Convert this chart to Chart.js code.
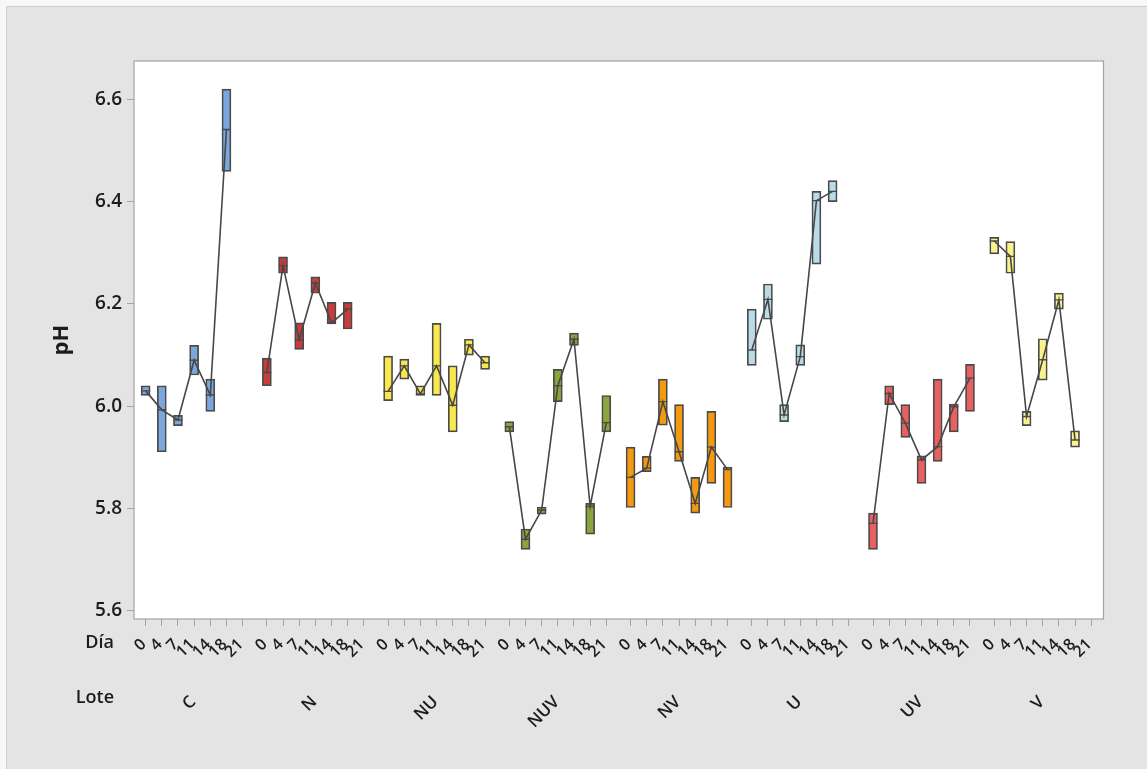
<!DOCTYPE html>
<html>
<head>
<meta charset="utf-8">
<script src="https://cdn.jsdelivr.net/npm/chart.js@4.4.1/dist/chart.umd.min.js"></script>
<style>
  html, body { margin: 0; padding: 0; background: #f7f7f7; }
  #wrap { width: 1147px; height: 769px; }
</style>
</head>
<body>
<div id="wrap"><canvas id="c" width="1147" height="769"></canvas></div>
<script>
// Lotes (groups) and sampling days
const lotes = ['C', 'N', 'NU', 'NUV', 'NV', 'U', 'UV', 'V'];
const dias = ['0', '4', '7', '11', '14', '18', '21'];

// pH box limits per lote, one entry per day (null = no data that day)
const boxLow = [
  [6.021, 5.911, 5.962, 6.061, 5.990, 6.459, null],
  [6.040, 6.260, 6.111, 6.221, 6.161, 6.151, null],
  [6.011, 6.053, 6.021, 6.021, 5.950, 6.100, 6.072],
  [5.950, 5.720, 5.789, 6.009, 6.119, 5.750, 5.950],
  [5.802, 5.872, 5.963, 5.892, 5.791, 5.849, 5.802],
  [6.080, 6.170, 5.970, 6.080, 6.278, 6.400, null],
  [5.720, 6.003, 5.939, 5.849, 5.892, 5.950, 5.990],
  [6.298, 6.260, 5.962, 6.051, 6.190, 5.920, null]
];
const boxHigh = [
  [6.040, 6.040, 5.982, 6.119, 6.053, 6.620, null],
  [6.094, 6.292, 6.163, 6.253, 6.203, 6.203, null],
  [6.098, 6.092, 6.040, 6.162, 6.079, 6.131, 6.098],
  [5.970, 5.760, 5.803, 6.072, 6.143, 5.810, 6.021],
  [5.920, 5.902, 6.053, 6.003, 5.861, 5.990, 5.881],
  [6.190, 6.239, 6.003, 6.120, 6.420, 6.441, null],
  [5.791, 6.040, 6.003, 5.903, 6.053, 6.004, 6.082],
  [6.330, 6.322, 5.990, 6.132, 6.221, 5.952, null]
];
// Median pH per lote and day (also the points joined by the connecting line)
const medians = [
  [6.030, 5.993, 5.973, 6.090, 6.022, 6.541, null],
  [6.066, 6.275, 6.130, 6.241, 6.163, 6.190, null],
  [6.029, 6.079, 6.024, 6.079, 6.002, 6.120, 6.085],
  [5.960, 5.740, 5.797, 6.040, 6.131, 5.804, 5.968],
  [5.861, 5.879, 6.009, 5.911, 5.810, 5.920, 5.876],
  [6.110, 6.209, 5.983, 6.097, 6.402, 6.420, null],
  [5.771, 6.025, 5.967, 5.895, 5.921, 5.999, 6.055],
  [6.323, 6.293, 5.980, 6.091, 6.208, 5.934, null]
];
const yTicks = [5.6, 5.8, 6.0, 6.2, 6.4, 6.6];

const loteColors = ['#7ba7dc', '#c93c3c', '#f9e84b', '#8ba53b', '#f39a10', '#b9dbe7', '#e8605f', '#f8f38c'];
const slotsPerLote = 7.5;
const pos = (g, d) => g * slotsPerLote + d;

const boxData = [], boxColors = [], medData = [];
lotes.forEach((l, g) => {
  dias.forEach((dia, d) => {
    if (boxLow[g][d] == null) return;
    boxData.push({ x: pos(g, d), y: [boxLow[g][d], boxHigh[g][d]] });
    boxColors.push(loteColors[g]);
    medData.push({ x: pos(g, d), y: medians[g][d] });
  });
});

const lineSets = lotes.map((l, g) => ({
  type: 'line',
  label: l,
  data: dias.map((dia, d) => medians[g][d] == null ? null : { x: pos(g, d), y: medians[g][d] }).filter(Boolean),
  borderColor: '#474747',
  borderWidth: 1.6,
  pointRadius: 0,
  tension: 0,
  fill: false,
  order: 1
}));

const FONT = '"Open Sans", "Noto Sans", sans-serif';
const INK = '#1c1c1c';

const framePlugin = {
  id: 'frame',
  beforeDraw(chart) {
    const { ctx, chartArea: a, width, height } = chart;
    ctx.save();
    ctx.fillStyle = '#f7f7f7';
    ctx.fillRect(0, 0, width, height);
    ctx.fillStyle = '#e4e4e4';
    ctx.fillRect(6, 6, width - 6, height - 6);
    ctx.strokeStyle = '#cdcdcd';
    ctx.lineWidth = 1;
    ctx.beginPath();
    ctx.moveTo(6.5, height);
    ctx.lineTo(6.5, 6.5);
    ctx.lineTo(width, 6.5);
    ctx.stroke();
    ctx.fillStyle = '#ffffff';
    ctx.fillRect(a.left, a.top, a.width, a.height);
    ctx.restore();
  },
  afterDraw(chart) {
    const { ctx, chartArea: a } = chart;
    ctx.save();
    ctx.strokeStyle = '#a3a3a3';
    ctx.lineWidth = 1.2;
    ctx.strokeRect(a.left, a.top, a.width, a.height);
    ctx.fillStyle = INK;
    ctx.font = '600 18px ' + FONT;
    ctx.textAlign = 'right';
    ctx.textBaseline = 'middle';
    ctx.fillText('Día', 114, a.bottom + 24);
    ctx.fillText('Lote', 114, a.bottom + 79);
    ctx.restore();
  }
};

const xCommon = {
  type: 'linear',
  position: 'bottom',
  offset: false,
  min: -0.72,
  max: 59.26
};

new Chart(document.getElementById('c'), {
  type: 'bar',
  data: {
    datasets: [
      ...lineSets,
      {
        type: 'scatter',
        label: 'Mediana',
        data: medData,
        pointStyle: 'line',
        pointRadius: 4.5,
        pointBorderColor: '#4a4a4a',
        pointBorderWidth: 1.4,
        showLine: false,
        order: 2
      },
      {
        type: 'bar',
        label: 'pH',
        data: boxData,
        backgroundColor: boxColors,
        borderColor: '#4a4a4a',
        borderWidth: 1.7,
        borderSkipped: false,
        barThickness: 9,
        grouped: false,
        order: 3
      }
    ]
  },
  options: {
    responsive: false,
    animation: false,
    devicePixelRatio: 1,
    layout: { padding: { top: 61, right: 43.5, bottom: 30, left: 0 } },
    plugins: { legend: { display: false }, tooltip: { enabled: false } },
    scales: {
      x: {
        ...xCommon,
        afterBuildTicks(s) {
          const t = [];
          lotes.forEach((l, g) => dias.forEach((dia, d) => t.push({ value: pos(g, d) })));
          s.ticks = t;
        },
        afterFit(s) { s.height = 64; },
        ticks: {
          autoSkip: false,
          minRotation: 45,
          maxRotation: 45,
          padding: 9,
          labelOffset: -2,
          color: INK,
          font: { family: FONT, size: 16, weight: '600' },
          callback(v) {
            const d = Math.round(v - Math.floor((v + 0.25) / slotsPerLote) * slotsPerLote);
            return dias[d];
          }
        },
        grid: { display: true, offset: false, drawOnChartArea: false, drawTicks: true, tickLength: 7, color: '#a3a3a3', lineWidth: 1 },
        border: { display: false }
      },
      lote: {
        ...xCommon,
        afterBuildTicks(s) {
          s.ticks = lotes.map((l, g) => ({ value: pos(g, 3) }));
        },
        afterFit(s) { s.height = 56; },
        ticks: {
          autoSkip: false,
          minRotation: 45,
          maxRotation: 45,
          padding: 1,
          labelOffset: -1,
          color: INK,
          font: { family: FONT, size: 17, weight: '600' },
          callback(v, i) { return lotes[i]; }
        },
        grid: { display: false, offset: false },
        border: { display: false }
      },
      y: {
        type: 'linear',
        min: 5.584,
        max: 6.675,
        afterBuildTicks(s) { s.ticks = yTicks.map(v => ({ value: v })); },
        afterFit(s) { s.width = 134; },
        ticks: {
          padding: 5,
          color: INK,
          font: { family: FONT, size: 19, weight: '600' },
          callback(v) { return v.toFixed(1); }
        },
        grid: { display: true, drawOnChartArea: false, drawTicks: true, tickLength: 7, color: '#a3a3a3', lineWidth: 1 },
        border: { display: false },
        title: {
          display: true,
          text: 'pH',
          color: INK,
          font: { family: FONT, size: 22, weight: 'bold' },
          padding: { top: 49, bottom: 0 }
        }
      }
    }
  },
  plugins: [framePlugin]
});
</script>
</body>
</html>
